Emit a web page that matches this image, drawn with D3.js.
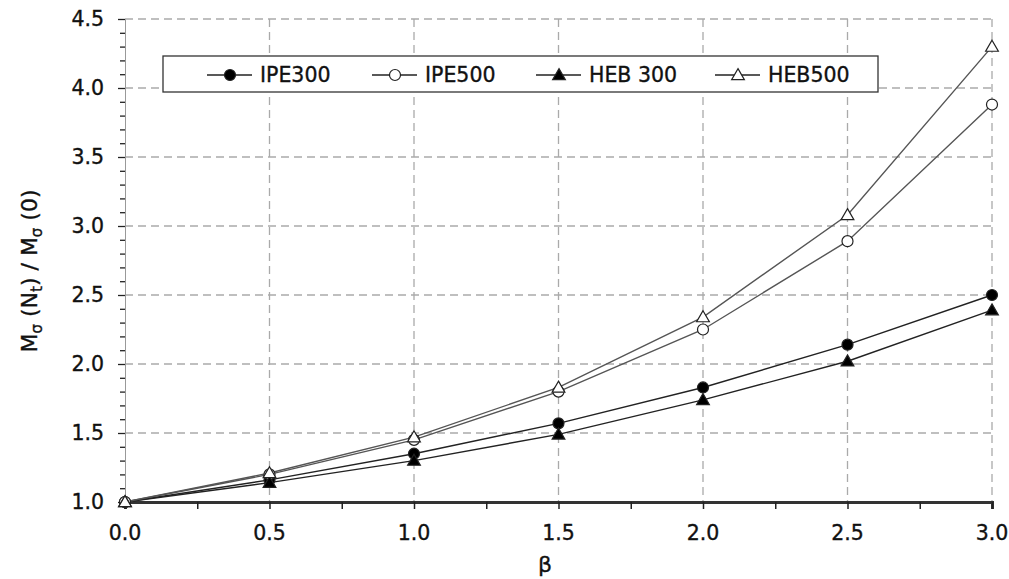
<!DOCTYPE html>
<html><head><meta charset="utf-8">
<script src="https://cdn.jsdelivr.net/npm/d3@7/dist/d3.min.js"></script>
<style>
body{margin:0;background:#fff;}
svg text{font-family:"DejaVu Sans",Verdana,sans-serif;fill:#111;stroke:#111;stroke-width:0.35px;}
</style></head><body>
<svg id="c" width="1009" height="579"></svg>
<script>
const beta = [0, 0.5, 1.0, 1.5, 2.0, 2.5, 3.0];
const ipe300 = [1.0, 1.16, 1.35, 1.57, 1.83, 2.14, 2.50];
const ipe500 = [1.0, 1.20, 1.45, 1.80, 2.25, 2.89, 3.88];
const heb300 = [1.0, 1.14, 1.30, 1.49, 1.74, 2.02, 2.39];
const heb500 = [1.0, 1.21, 1.47, 1.83, 2.34, 3.08, 4.30];
const seriesNames = ["IPE300", "IPE500", "HEB 300", "HEB500"];
const xTicks = [0, 0.5, 1.0, 1.5, 2.0, 2.5, 3.0];
const yTicks = [1.0, 1.5, 2.0, 2.5, 3.0, 3.5, 4.0, 4.5];

const series = [
  {name: seriesNames[0], vals: ipe300, shape: "circle", fill: "#000", line: "#222"},
  {name: seriesNames[1], vals: ipe500, shape: "circle", fill: "#fff", line: "#555"},
  {name: seriesNames[2], vals: heb300, shape: "tri", fill: "#000", line: "#222"},
  {name: seriesNames[3], vals: heb500, shape: "tri", fill: "#fff", line: "#555"}
];

const svg = d3.select("#c");
const L = 125, R = 992, T = 19, B = 502;
const x = d3.scaleLinear().domain([0, 3]).range([L, R]);
const y = d3.scaleLinear().domain([1, 4.5]).range([B, T]);

// grid
const g = svg.append("g");
g.selectAll(".vg").data(xTicks.filter(d => d > 0)).enter().append("line")
  .attr("x1", d => x(d)).attr("x2", d => x(d)).attr("y1", T).attr("y2", B)
  .attr("stroke", "#aaa").attr("stroke-width", 1.3).attr("stroke-dasharray", "8,5");
g.selectAll(".hg").data(yTicks.filter(d => d > 1)).enter().append("line")
  .attr("x1", L).attr("x2", R).attr("y1", d => y(d)).attr("y2", d => y(d))
  .attr("stroke", "#aaa").attr("stroke-width", 1.3).attr("stroke-dasharray", "8,5");

// y axis
const yAxis = svg.append("g").attr("transform", `translate(${L},0)`)
  .call(d3.axisLeft(y).tickValues(d3.range(10, 46).map(v => v / 10)).tickSize(5).tickFormat(""));
yAxis.select(".domain").attr("stroke", "#999").attr("stroke-width", 1);
yAxis.selectAll(".tick line").attr("stroke", "#222").attr("stroke-width", 1.3)
  .attr("x2", d => (Math.abs(d * 2 - Math.round(d * 2)) < 1e-6) ? -7 : -5);
yAxis.selectAll(".tick text").remove();
svg.append("g").selectAll("text").data(yTicks).enter().append("text")
  .attr("x", 104).attr("y", d => y(d)).attr("dy", "0.36em").attr("text-anchor", "end")
  .attr("font-size", 20.5).text(d => d.toFixed(1));

// x axis
const xAxis = svg.append("g").attr("transform", `translate(0,${B})`)
  .call(d3.axisBottom(x).tickValues(d3.range(0, 13).map(v => v / 4)).tickSize(7).tickFormat(""));
xAxis.select(".domain").attr("stroke", "#333").attr("stroke-width", 3);
xAxis.selectAll(".tick line").attr("stroke", "#222").attr("stroke-width", 1.5);
svg.append("g").selectAll("text").data(xTicks).enter().append("text")
  .attr("x", d => x(d)).attr("y", 533).attr("dy", "0.36em").attr("text-anchor", "middle")
  .attr("font-size", 20.5).text(d => d.toFixed(1));

// axis titles
svg.append("text").attr("x", 545).attr("y", 564).attr("dy", "0.36em").attr("text-anchor", "middle")
  .attr("font-size", 22).text("β");
const yt = svg.append("text").attr("transform", "translate(29,271) rotate(-90)")
  .attr("text-anchor", "middle").attr("dy", "0.36em").attr("font-size", 22);
yt.append("tspan").text("M");
yt.append("tspan").attr("font-size", 15).attr("dy", 5).text("σ");
yt.append("tspan").attr("dy", -5).text(" (N");
yt.append("tspan").attr("font-size", 15).attr("dy", 5).text("t");
yt.append("tspan").attr("dy", -5).text(") / M");
yt.append("tspan").attr("font-size", 15).attr("dy", 5).text("σ");
yt.append("tspan").attr("dy", -5).text(" (0)");

// markers
function drawMarker(sel, s, cx, cy) {
  if (s.shape === "circle") {
    sel.append("circle").attr("cx", cx).attr("cy", cy).attr("r", 5.5)
      .attr("fill", s.fill).attr("stroke", "#222").attr("stroke-width", 1.2);
  } else {
    const sym = d3.symbol().type(d3.symbolTriangle).size(70);
    sel.append("path").attr("d", sym()).attr("transform", `translate(${cx},${cy + 1})`)
      .attr("fill", s.fill).attr("stroke", "#222").attr("stroke-width", 1.2);
  }
}

const line = d3.line().x((d, i) => x(beta[i])).y(d => y(d));
const plot = svg.append("g");
series.forEach(s => {
  plot.append("path").attr("d", line(s.vals)).attr("fill", "none")
    .attr("stroke", s.line).attr("stroke-width", 1.4);
});
series.forEach(s => {
  s.vals.forEach((v, i) => drawMarker(plot, s, x(beta[i]), y(v)));
});

// legend
const lg = svg.append("g");
lg.append("rect").attr("x", 163).attr("y", 56).attr("width", 715).attr("height", 36)
  .attr("fill", "#fff").attr("stroke", "#333").attr("stroke-width", 1.3);
const legX = [207, 372, 536, 715];
series.forEach((s, i) => {
  const lx = legX[i], ly = 75;
  lg.append("line").attr("x1", lx).attr("x2", lx + 45).attr("y1", ly).attr("y2", ly)
    .attr("stroke", "#222").attr("stroke-width", 1.3);
  drawMarker(lg, s, lx + 23, ly);
  lg.append("text").attr("x", lx + 53).attr("y", ly).attr("dy", "0.36em")
    .attr("font-size", 20.5).text(s.name);
});
</script>
</body></html>
